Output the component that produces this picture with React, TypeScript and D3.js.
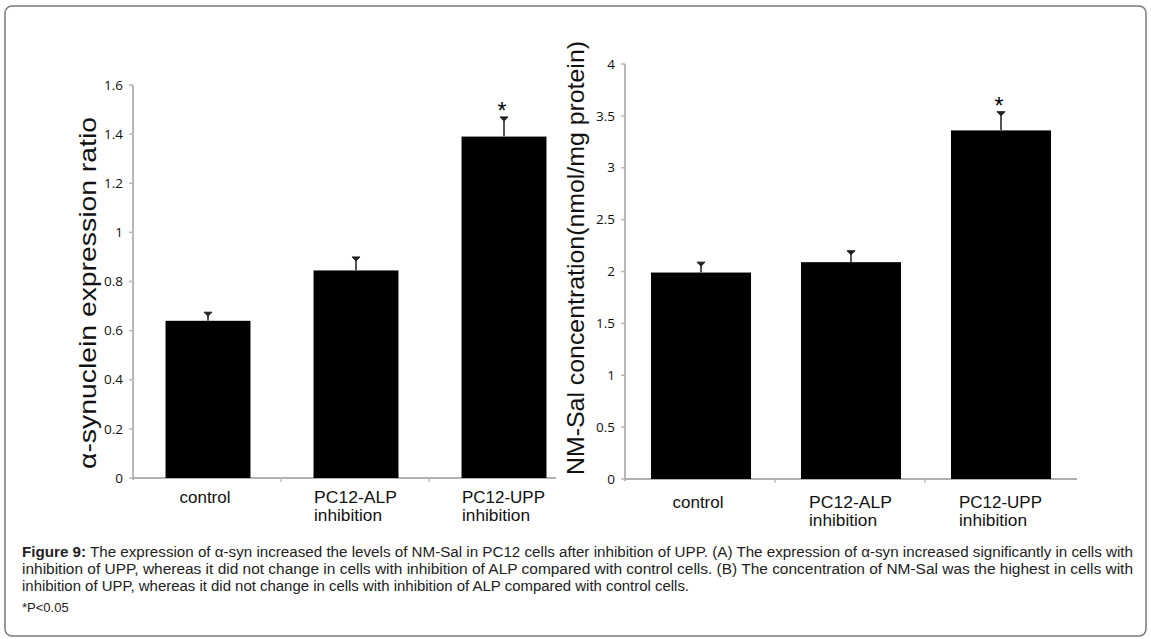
import React from "react";
import * as d3 from "d3";

const categories = ["control", "PC12-ALP inhibition", "PC12-UPP inhibition"];
const valuesA = [0.64, 0.845, 1.39];
const errorsA = [0.035, 0.055, 0.08];
const valuesB = [1.99, 2.09, 3.36];
const errorsB = [0.1, 0.11, 0.18];
const significantA = [false, false, true];
const significantB = [false, false, true];
const ticksA = [0, 0.2, 0.4, 0.6, 0.8, 1, 1.2, 1.4, 1.6];
const ticksB = [0, 0.5, 1, 1.5, 2, 2.5, 3, 3.5, 4];
const captionLines = [
  "The expression of α-syn increased the levels of NM-Sal in PC12 cells after inhibition of UPP. (A) The expression of α-syn increased significantly in cells with",
  "inhibition of UPP, whereas it did not change in cells with inhibition of ALP compared with control cells. (B) The concentration of NM-Sal was the highest in cells with",
  "inhibition of UPP, whereas it did not change in cells with inhibition of ALP compared with control cells.",
];

const labelFont = "Liberation Sans, Arial, Helvetica, sans-serif";
const tickFont = "Open Sans, Liberation Sans, sans-serif";

type PanelProps = {
  values: number[];
  errors: number[];
  sig: boolean[];
  ticks: number[];
  yMax: number;
  xRange: [number, number];
  yRange: [number, number];
  axisEnd: number;
  yLabel: string;
  yLabelX: number;
  yLabelY: number;
  yLabelSize: number;
  yLabelLen: number;
  catBaseline: number;
  inner: number;
};

function Panel(p: PanelProps) {
  const x = d3
    .scaleBand<string>()
    .domain(categories)
    .range(p.xRange)
    .paddingInner(p.inner)
    .paddingOuter(p.inner / 2);
  const y = d3.scaleLinear().domain([0, p.yMax]).range(p.yRange);
  const x0 = p.xRange[0] - 1;
  const y0 = y(0);
  const step = x.step();
  return (
    <g>
      <line x1={x0} x2={x0} y1={y(p.yMax)} y2={y0 + 2} stroke="#b8b8b8" strokeWidth={2} />
      {p.ticks.map((t) => (
        <g key={t}>
          <line x1={x0 - 4} x2={x0} y1={y(t)} y2={y(t)} stroke="#b8b8b8" strokeWidth={1.5} />
          <text
            x={x0 - 10}
            y={y(t)}
            dy="0.35em"
            textAnchor="end"
            fontFamily={tickFont}
            fontSize={13.5}
            fill="#111"
          >
            {d3.format("~g")(t)}
          </text>
        </g>
      ))}
      <line x1={x0} x2={p.axisEnd} y1={y0} y2={y0} stroke="#b0b0b0" strokeWidth={2} />
      {[1, 2].map((i) => (
        <line
          key={i}
          x1={x0 + step * i}
          x2={x0 + step * i}
          y1={y0}
          y2={y0 + 4}
          stroke="#c0c0c0"
          strokeWidth={1.5}
        />
      ))}
      {categories.map((c, i) => {
        const bx = x(c)!;
        const bw = x.bandwidth();
        const cx = bx + bw / 2;
        const top = y(p.values[i]);
        const et = y(p.values[i] + p.errors[i]);
        return (
          <g key={c}>
            <rect x={bx} y={top} width={bw} height={y0 - top} fill="#000" />
            <line x1={cx} x2={cx} y1={top} y2={et} stroke="#555" strokeWidth={2} />
            <path d={`M${cx - 4},${et} L${cx + 4},${et} L${cx},${et + 4} Z`} fill="#222" stroke="#222" strokeWidth={1} />
            {p.sig[i] && (
              <text x={cx - 2} y={et + 2} textAnchor="middle" fontFamily={labelFont} fontSize={23} fill="#000">
                *
              </text>
            )}
          </g>
        );
      })}
      {categories.map((c, i) => {
        const cx = x(c)! + x.bandwidth() / 2;
        const parts = c.split(" ");
        if (parts.length === 1) {
          return (
            <text key={c} x={cx - 3} y={p.catBaseline} textAnchor="middle" fontFamily={labelFont} fontSize={17} fill="#111">
              {c}
            </text>
          );
        }
        return (
          <g key={c} fontFamily={labelFont} fill="#111">
            <text x={cx - 42} y={p.catBaseline} fontSize={16} textLength={83} lengthAdjust="spacingAndGlyphs">
              {parts[0]}
            </text>
            <text x={cx - 42} y={p.catBaseline + 18} fontSize={16} textLength={68} lengthAdjust="spacingAndGlyphs">
              {parts[1]}
            </text>
          </g>
        );
      })}
      <text
        transform={`translate(${p.yLabelX},${p.yLabelY}) rotate(-90)`}
        textAnchor="middle"
        fontFamily={labelFont}
        fontSize={p.yLabelSize}
        textLength={p.yLabelLen}
        lengthAdjust="spacingAndGlyphs"
        fill="#111"
      >
        {p.yLabel}
      </text>
    </g>
  );
}

export default function App() {
  return (
    <svg
      width={1151}
      height={639}
      viewBox="0 0 1151 639"
      style={{ position: "absolute", left: 0, top: 0, background: "#fff" }}
    >
      <rect x={5} y={6} width={1141} height={630} rx={7} ry={7} fill="#fff" stroke="#7a7a7a" strokeWidth={1.5} />
      <Panel
        values={valuesA}
        errors={errorsA}
        sig={significantA}
        ticks={ticksA}
        yMax={1.6}
        xRange={[134, 578]}
        yRange={[478, 85]}
        axisEnd={556}
        yLabel="α-synuclein expression ratio"
        yLabelX={96}
        yLabelY={293}
        yLabelSize={24}
        yLabelLen={352}
        catBaseline={503}
        inner={0.426}
      />
      <Panel
        values={valuesB}
        errors={errorsB}
        sig={significantB}
        ticks={ticksB}
        yMax={4}
        xRange={[626, 1076]}
        yRange={[479, 64]}
        axisEnd={1077}
        yLabel="NM-Sal concentration(nmol/mg protein)"
        yLabelX={584}
        yLabelY={258}
        yLabelSize={24}
        yLabelLen={434}
        catBaseline={508}
        inner={0.333}
      />
      <g fontFamily={labelFont} fontSize={14} fill="#222">
        <text x={22} y={557} textLength={1111} lengthAdjust="spacingAndGlyphs">
          <tspan fontWeight="bold">Figure 9:</tspan> {captionLines[0]}
        </text>
        <text x={22} y={574} textLength={1111} lengthAdjust="spacingAndGlyphs">{captionLines[1]}</text>
        <text x={22} y={591} textLength={667} lengthAdjust="spacingAndGlyphs">{captionLines[2]}</text>
        <text x={22} y={612} fontSize={13}>*P&lt;0.05</text>
      </g>
    </svg>
  );
}
